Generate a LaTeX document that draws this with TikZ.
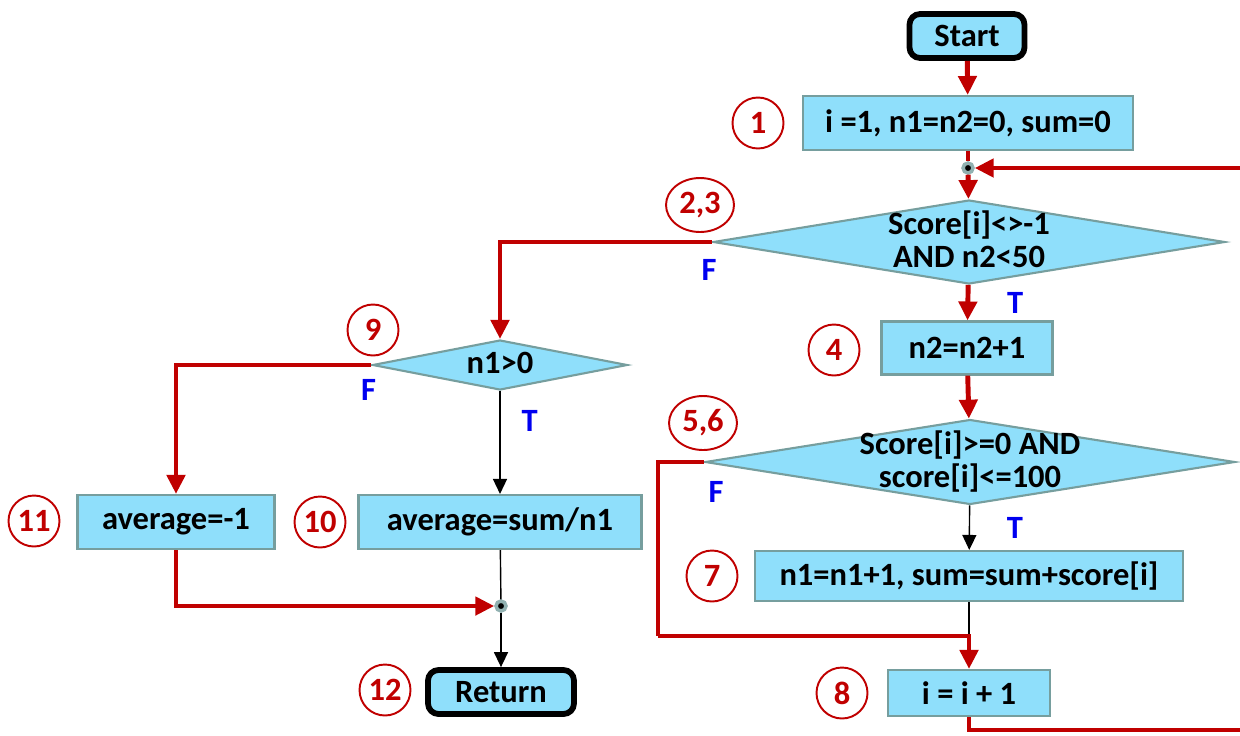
\documentclass[tikz,border=0pt]{standalone}
\usepackage{fontspec}
\setmainfont{Carlito}
\usepackage{xcolor}
\usepackage{tikz}
\usetikzlibrary{shapes.geometric,arrows.meta,positioning,calc}
\definecolor{fcblue}{RGB}{143,223,251}
\definecolor{fcedge}{RGB}{118,158,158}
\definecolor{fcred}{RGB}{192,0,0}
\definecolor{fclabel}{RGB}{0,0,240}
\newcommand{\cond}[1]{\makebox[0pt]{\raisebox{-.3em}[0pt][0pt]{\begin{tabular}{@{}c@{}}#1\end{tabular}}}}

\begin{document}
\begin{tikzpicture}[
    x=0.02cm, y=-0.02cm,
    every node/.style={font=\fontsize{18.5}{18.5}\selectfont\bfseries},
    proc/.style={draw=fcedge, line width=1.2pt, fill=fcblue, inner sep=2pt},
    term/.style={draw=black, line width=3.3pt, fill=fcblue, rounded corners=6pt,
                 minimum width=2.3cm, minimum height=0.88cm},
    decide/.style={diamond, draw=fcedge, line width=1.2pt, fill=fcblue, inner sep=0pt},
    num/.style={ellipse, draw=fcred, line width=1.1pt, text=fcred, inner sep=0pt,
                minimum width=1.02cm, minimum height=1.02cm},
    jdot/.style={circle, fill=black, draw=fcedge!80, line width=2pt, inner sep=2pt},
    tf/.style={text=fclabel},
    redarr/.style={draw=fcred, line width=2.8pt, -{Triangle[length=0.38cm, width=0.36cm]}},
    redln/.style={draw=fcred, line width=2.8pt},
    blkarr/.style={draw=black, line width=0.8pt, -{Triangle[length=0.3cm, width=0.28cm]}},
    blkln/.style={draw=black, line width=0.8pt}
]
    \useasboundingbox (0,0) rectangle (1240,735);

    % right column
    \node[term] (start) at (967,36) {Start};
    \node[proc, minimum width=6.6cm, minimum height=1.08cm] (init) at (968,123) {i =1, n1=n2=0, sum=0};
    \node[jdot] (loopin) at (968,168) {};
    \node[decide, minimum width=10.24cm, minimum height=1.68cm] (more) at (969,242)
        {\cond{Score[i]<>-1\\AND n2<50}};
    \node[proc, minimum width=3.42cm, minimum height=1.06cm] (count) at (967,348) {n2=n2+1};
    \node[decide, minimum width=10.6cm, minimum height=1.7cm] (valid) at (970,462)
        {\cond{Score[i]>=0 AND\\score[i]<=100}};
    \node[proc, minimum width=8.56cm, minimum height=1.0cm] (accum) at (969,576) {n1=n1+1, sum=sum+score[i]};
    \node[proc, minimum width=3.24cm, minimum height=0.92cm] (incr) at (969,693) {i = i + 1};

    % left column
    \node[decide, minimum width=5.1cm, minimum height=1.0cm] (any) at (500,365) {\cond{n1>0}};
    \node[proc, minimum width=3.94cm, minimum height=1.08cm] (avgneg) at (176,522) {average=-1};
    \node[proc, minimum width=5.66cm, minimum height=1.08cm] (avg) at (500,522) {average=sum/n1};
    \node[jdot] (merge) at (501,606) {};
    \node[term, minimum width=2.92cm] (ret) at (501,692) {Return};

    % path numbers
    \node[num] (n1) at (758,123) {1};
    \node[num, minimum width=1.36cm, minimum height=1.08cm] (n23) at (700,205) {2,3};
    \node[num] (n4) at (834,350) {4};
    \node[num, minimum width=1.36cm, minimum height=1.08cm] (n56) at (703,423) {5,6};
    \node[num] (n7) at (712,576) {7};
    \node[num] (n8) at (842,693) {8};
    \node[num] (n9) at (373,330) {9};
    \node[num] (n10) at (320,522) {10};
    \node[num] (n11) at (34,521) {11};
    \node[num] (n12) at (385,690) {12};

    % corners of the connectors
    \coordinate (skip) at (658,636);
    \coordinate (back) at (1252,730);

    % connectors
    \draw[redarr] (start) -- (init);
    \draw[redln] (init) -- (loopin);
    \draw[redarr] (loopin) -- (more);
    \draw[redarr] (more.west) -| (any.north);
    \node[tf] at ($(more.west)+(-3,28)$) {F};
    \draw[redarr] (more) -- (count)
        node[midway, tf, right=0.62cm] {T};
    \draw[redarr] (count) -- (valid);
    \draw[blkarr] (valid) -- (accum)
        node[midway, tf, right=0.62cm] {T};
    \draw[redln] (valid.west) -| (skip);
    \node[tf] at ($(valid.west)+(12,30)$) {F};
    \draw[blkln] (accum) -- (accum.south |- skip);
    \draw[redarr] (skip) -| (incr.north);
    \draw[redarr] (incr) |- (back) |- (loopin);

    \draw[redarr] (any.west) -| (avgneg.north);
    \node[tf] at ($(any.west)+(-3,25)$) {F};
    \draw[blkarr] (any) -- (avg)
        node[pos=0.29, tf, right=0.3cm] {T};
    \draw[redarr] (avgneg) |- (merge);
    \draw[blkln] (avg) -- (merge);
    \draw[blkarr] (merge) -- (ret);
\end{tikzpicture}
\end{document}
